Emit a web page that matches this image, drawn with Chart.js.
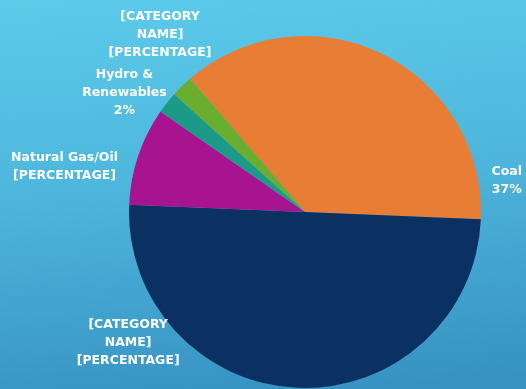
<!DOCTYPE html>
<html>
<head>
<meta charset="utf-8">
<script src="https://cdn.jsdelivr.net/npm/chart.js@4.4.1/dist/chart.umd.min.js"></script>
<style>
  html, body { margin: 0; padding: 0; }
  body {
    width: 526px; height: 389px; overflow: hidden;
    background: linear-gradient(175deg, #5ccbea 0%, #4eb6dc 45%, #3690c0 100%);
  }
  #wrap { position: relative; width: 526px; height: 389px; }
</style>
</head>
<body>
<div id="wrap"><canvas id="pieChart"></canvas></div>
<script>
// data, in the order slices are drawn (clockwise)
var categories  = ['Coal', '[CATEGORY NAME]', 'Natural Gas/Oil', 'Hydro & Renewables', '[CATEGORY NAME]']
var shares      = [37, 50, 9, 2, 2]
var shareLabels = ['37%', '[PERCENTAGE]', '[PERCENTAGE]', '2%', '[PERCENTAGE]']
var colors      = ['#e87e36', '#0b3162', '#a8148f', '#1c9a88', '#6aae2f']

// how each label is broken into lines
var labelLines = [
  ['Coal'],
  ['[CATEGORY', 'NAME]'],
  ['Natural Gas/Oil'],
  ['Hydro &', 'Renewables'],
  ['[CATEGORY', 'NAME]']
]

// where each label sits: angle (deg, clockwise from 3 o'clock) and distance in radii
var labelPlace = [
  { angle: 351.3, dist: 1.16 },
  { angle: 143.5, dist: 1.25 },
  { angle: 190.6, dist: 1.39 },
  { angle: 213.5, dist: 1.23 },
  { angle: 230.7, dist: 1.30 }
]

var outsideLabels = {
  id: 'outsideLabels',
  afterDatasetsDraw: function (chart) {
    var ctx = chart.ctx
    var arcs = chart.getDatasetMeta(0).data
    ctx.save()
    ctx.fillStyle = '#ffffff'
    ctx.font = 'bold 12.5px "DejaVu Sans"'
    ctx.textAlign = 'center'
    ctx.textBaseline = 'middle'
    arcs.forEach(function (arc, i) {
      var lines = labelLines[i].concat([shareLabels[i]])
      var a = labelPlace[i].angle * Math.PI / 180
      var d = arc.outerRadius * labelPlace[i].dist
      var cx = arc.x + Math.cos(a) * d
      var cy = arc.y + Math.sin(a) * d
      var lh = 18
      var y0 = cy - (lines.length - 1) * lh / 2
      lines.forEach(function (t, k) {
        ctx.fillText(t, cx, y0 + k * lh)
      })
    })
    ctx.restore()
  }
}

var pieCanvas = document.getElementById('pieChart').getContext('2d')
var pieChart = new Chart(pieCanvas, {
  type: 'pie',
  data: {
    labels: categories,
    datasets: [{
      data: shares,
      backgroundColor: colors,
      borderWidth: 0
    }]
  },
  options: {
    responsive: true,
    maintainAspectRatio: false,
    animation: false,
    rotation: -40.8,
    layout: { padding: { left: 129, right: 45, top: 36, bottom: 1 } },
    plugins: {
      legend: { display: false },
      tooltip: { enabled: false }
    }
  },
  plugins: [outsideLabels]
})
</script>
</body>
</html>
